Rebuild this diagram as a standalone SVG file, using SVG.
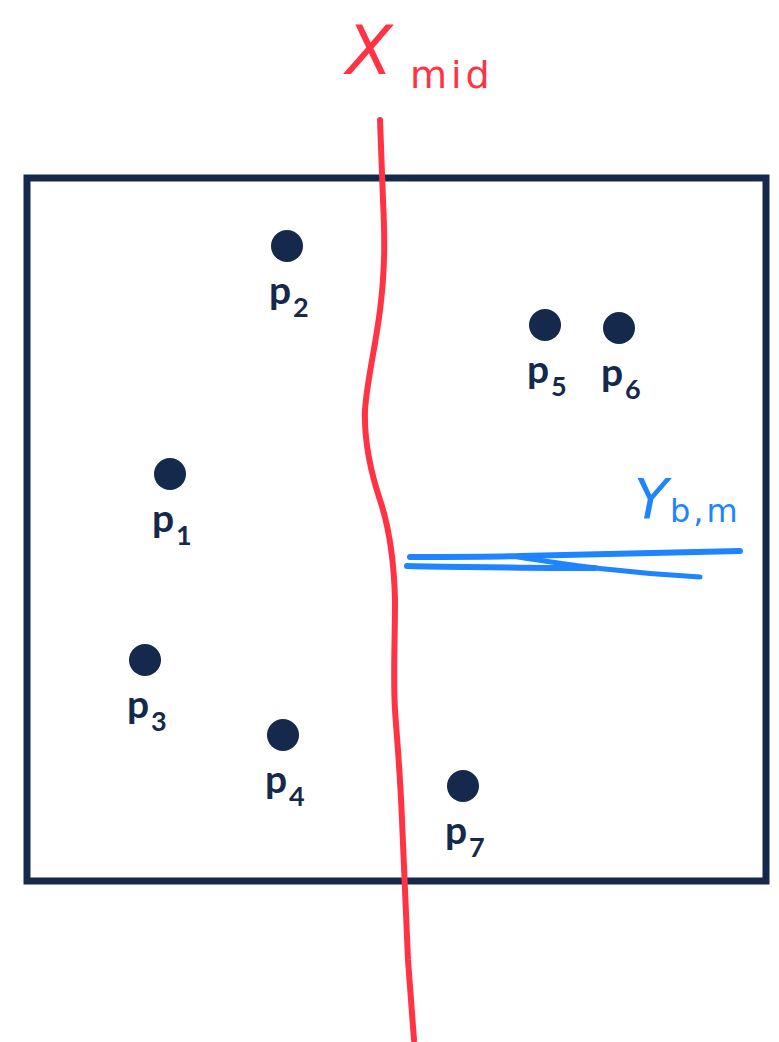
<svg xmlns="http://www.w3.org/2000/svg" width="779" height="1042" viewBox="0 0 779 1042">
<style>
.dot{fill:#15294c}
.lbl{font-family:Lato,"Open Sans","Liberation Sans",sans-serif;font-weight:bold;fill:#15294c}
.p{font-size:39px}
.s{font-size:27px}
.ink{fill:none;stroke-linecap:round;stroke-linejoin:round}
.hand{font-family:"DejaVu Sans","Liberation Sans",sans-serif}
</style>
<rect width="779" height="1042" fill="#ffffff"/>
<rect id="box" x="27" y="178" width="739" height="703" fill="none" stroke="#15294c" stroke-width="7"/>
<g id="p1"><circle class="dot" cx="170" cy="474" r="16"/><text class="lbl"><tspan class="p" x="152" y="532">p</tspan><tspan class="s" x="176" y="545">1</tspan></text></g>
<g id="p2"><circle class="dot" cx="287" cy="246" r="16"/><text class="lbl"><tspan class="p" x="269" y="304">p</tspan><tspan class="s" x="293" y="317">2</tspan></text></g>
<g id="p3"><circle class="dot" cx="145" cy="660" r="16"/><text class="lbl"><tspan class="p" x="127" y="718">p</tspan><tspan class="s" x="151" y="731">3</tspan></text></g>
<g id="p4"><circle class="dot" cx="283" cy="735" r="16"/><text class="lbl"><tspan class="p" x="265" y="793">p</tspan><tspan class="s" x="289" y="806">4</tspan></text></g>
<g id="p5"><circle class="dot" cx="545" cy="325" r="16"/><text class="lbl"><tspan class="p" x="527" y="383">p</tspan><tspan class="s" x="551" y="396">5</tspan></text></g>
<g id="p6"><circle class="dot" cx="619" cy="328" r="16"/><text class="lbl"><tspan class="p" x="601" y="386">p</tspan><tspan class="s" x="625" y="399">6</tspan></text></g>
<g id="p7"><circle class="dot" cx="463" cy="786" r="16"/><text class="lbl"><tspan class="p" x="445" y="844">p</tspan><tspan class="s" x="469" y="857">7</tspan></text></g>
<g id="xmid">
<path class="ink" stroke="#ff3344" stroke-width="6" d="M380,120 C381,150 382,180 383,200 C385,240 385,270 380,310 C375,350 367,380 365,410 C364,440 370,470 380,500 C390,530 394,560 395,600 C395,640 393,680 395,710 C397,740 400,770 402,820 C404,870 406,920 408,960 C410,990 412,1015 414,1040"/>
<text class="hand" fill="#ff3344"><tspan x="346" y="74" font-size="68" font-style="italic">X</tspan><tspan x="410" y="88" font-size="38" letter-spacing="4">mid</tspan></text>
</g>
<g id="ybm">
<path class="ink" stroke="#1e84ff" stroke-width="6" d="M410,557 C450,557 490,557 520,556 C600,554 680,552 740,551"/>
<path class="ink" stroke="#1e84ff" stroke-width="5" d="M518,557 C545,561 570,565 595,568 C630,572 665,575 700,577"/>
<path class="ink" stroke="#1e84ff" stroke-width="6" d="M407,566 C470,567 530,568 595,568"/>
<text class="hand" fill="#1e84ff"><tspan x="634" y="518" font-size="56" font-style="italic">Y</tspan><tspan x="670" y="522" font-size="32" letter-spacing="3">b,m</tspan></text>
</g>
</svg>
